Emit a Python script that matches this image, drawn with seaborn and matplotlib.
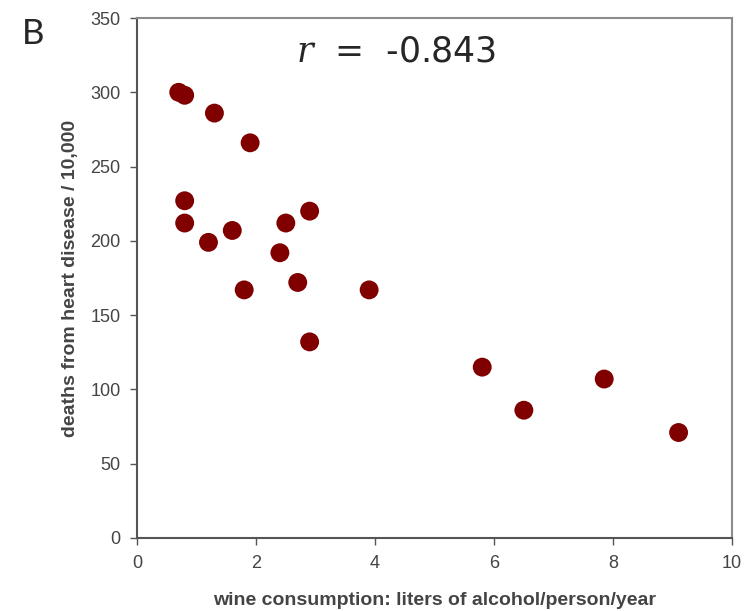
import pandas as pd
import matplotlib.pyplot as plt
import seaborn as sns

sns.set_style('white')
plt.rcParams['mathtext.fontset'] = 'dejavuserif'

# wine consumption (liters alcohol/person/year) vs heart disease deaths
wine = [0.7, 0.8, 1.3, 1.9, 0.8, 0.8, 1.2, 1.6, 2.5, 2.9,
        2.4, 1.8, 2.7, 3.9, 2.9, 5.8, 6.5, 7.85, 9.1]
deaths = [300, 298, 286, 266, 227, 212, 199, 207, 212, 220,
          192, 167, 172, 167, 132, 115, 86, 107, 71]
x_ticks = [0, 2, 4, 6, 8, 10]
y_ticks = [0, 50, 100, 150, 200, 250, 300, 350]

df = pd.DataFrame({'wine': wine, 'deaths': deaths})

fig = plt.figure(figsize=(7.49, 6.11), dpi=100)
ax = fig.add_axes([0.183, 0.1195, 0.7945, 0.851])

sns.scatterplot(data=df, x='wine', y='deaths', ax=ax, s=185,
                color='#800000', edgecolor='none', legend=False)

ax.set_xlim(0, 10)
ax.set_ylim(0, 350)
ax.set_xticks(x_ticks)
ax.set_yticks(y_ticks)

tick_font = dict(family='Liberation Sans', size=13, color='#444444')
ax.set_xticklabels([str(t) for t in x_ticks], **tick_font)
ax.set_yticklabels([str(t) for t in y_ticks], **tick_font)
ax.tick_params(axis='both', direction='out', length=5, width=1,
               color='#555555', left=True, bottom=True, pad=7)

for side in ['left', 'bottom']:
    ax.spines[side].set_color('#555555')
    ax.spines[side].set_linewidth(1.5)
for side in ['top', 'right']:
    ax.spines[side].set_color('#8c8c8c')
    ax.spines[side].set_linewidth(1.5)

label_font = dict(family='Liberation Sans', fontsize=14, fontweight='bold',
                  color='#444444')
ax.set_xlabel('wine consumption: liters of alcohol/person/year',
              labelpad=15, **label_font)
ax.set_ylabel('deaths from heart disease / 10,000', labelpad=8, **label_font)

ax.text(0.435, 0.935, r'$\mathit{r}$  =  -0.843', transform=ax.transAxes,
        ha='center', va='center', fontsize=25, family='DejaVu Sans')
fig.text(0.044, 0.944, 'B', fontsize=25, family='Lato', ha='center', va='center')

fig.savefig('out.png', dpi=100)
